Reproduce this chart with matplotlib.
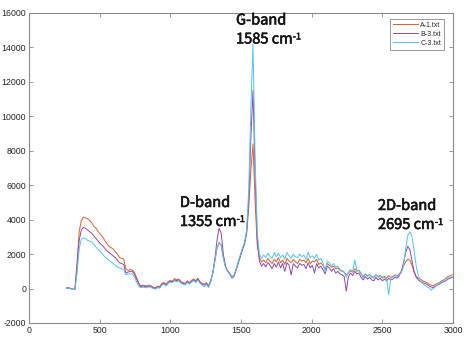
import numpy as np
import matplotlib
matplotlib.use("Agg")
import matplotlib.pyplot as plt
import matplotlib.patheffects as pe

# Raman shift grid (cm^-1) and intensities for the three samples
wavenumber = np.arange(265, 3000, 15)

a1 = [
    20, 50, 10, -30, -40, 1500, 3300, 3950, 4150, 4100,
    4050, 3950, 3800, 3600, 3500, 3300, 3150, 3000, 2800, 2620,
    2450, 2380, 2300, 2150, 2000, 1800, 1750, 1720, 1150, 1050,
    1100, 1080, 950, 650, 350, 150, 200, 170, 150, 200,
    150, 80, 40, 150, 100, 300, 350, 250, 400, 480,
    420, 580, 500, 560, 400, 350, 300, 450, 350, 480,
    550, 450, 600, 400, 300, 250, 350, 150, 450, 900,
    1600, 2300, 2650, 2550, 1800, 1300, 1050, 900, 700, 780,
    1100, 1500, 1900, 2300, 2600, 3200, 4700, 6900, 8400, 5000,
    2500, 1800, 1550, 1650, 1500, 1750, 1600, 1450, 1700, 1550,
    1800, 1500, 1650, 1400, 1750, 1600, 1500, 1700, 1550, 1450,
    1700, 1600, 1650, 1500, 1750, 1450, 1600, 1550, 1700, 1400,
    1500, 1350, 1100, 1450, 1350, 1250, 1300, 1150, 1200, 1050,
    1000, 950, 800, 900, 1050, 950, 1150, 1000, 1050, 850,
    700, 850, 750, 800, 700, 650, 800, 700, 750, 650,
    700, 600, 750, 650, 700, 800, 750, 850, 1000, 1300,
    1550, 1700, 1650, 1350, 950, 700, 600, 550, 450, 400,
    350, 250, 200, 150, 250, 300, 350, 450, 500, 600,
    700, 750, 800,
]

b3 = [
    30, 40, 0, -40, -30, 1300, 2800, 3400, 3550, 3500,
    3400, 3300, 3200, 3050, 2900, 2750, 2600, 2500, 2350, 2200,
    2100, 2000, 1900, 1800, 1650, 1500, 1450, 1400, 900, 950,
    1000, 1000, 850, 550, 300, 100, 150, 120, 100, 150,
    100, 30, 0, 100, 60, 250, 300, 200, 350, 420,
    380, 500, 450, 500, 350, 300, 250, 400, 300, 420,
    500, 400, 550, 350, 250, 200, 300, 100, 400, 900,
    1700, 2800, 3500, 3200, 2000, 1300, 1000, 850, 600, 700,
    1050, 1450, 1850, 2250, 2600, 3300, 5200, 8800, 11500, 6500,
    2900, 1600, 1300, 1450, 1250, 1500, 1350, 1150, 1450, 1250,
    1550, 1200, 1450, 1000, 1500, 1350, 800, 1450, 1300, 1200,
    1450, 1350, 1400, 1150, 1500, 1200, 1350, 900, 1450, 1200,
    1300, 1100, 850, 1300, 1200, 1000, 1150, 900, 1000, 850,
    800, 700, -150, 700, 900, 750, 1000, 850, 900, 650,
    500, 700, 550, 650, 500, 450, 650, 500, 600, 450,
    550, 450, 600, 500, 550, 650, 600, 750, 1000, 1500,
    2100, 2450, 2250, 1600, 1000, 650, 500, 400, 350, 300,
    250, 150, 100, 50, 150, 200, 250, 350, 400, 450,
    550, 600, 650,
]

c3 = [
    0, 30, -10, -50, -60, 900, 2300, 2850, 2950, 2900,
    2800, 2750, 2700, 2550, 2400, 2250, 2150, 2000, 1850, 1750,
    1650, 1550, 1450, 1350, 1250, 1200, 1150, 1100, 800, 850,
    850, 850, 700, 400, 150, 50, 80, 60, 50, 100,
    50, 0, -30, 50, 20, 200, 250, 150, 300, 380,
    350, 450, 400, 450, 300, 250, 200, 350, 250, 380,
    450, 350, 500, 300, 200, 100, 250, 50, 400, 850,
    1600, 2350, 2700, 2500, 1750, 1250, 1000, 850, 650, 750,
    1100, 1550, 1950, 2350, 2700, 3400, 5800, 10500, 14200, 7500,
    3300, 2000, 1750, 1950, 1800, 2050, 1850, 1750, 2100, 1850,
    2050, 1800, 1950, 1700, 2100, 1900, 1750, 2000, 1850, 1800,
    2000, 1850, 1950, 1700, 2100, 1800, 1900, 1750, 2000, 1650,
    1750, 1500, 1000, 1600, 1500, 1300, 1450, 1250, 1300, 1100,
    1050, 950, 650, 950, 1100, 1000, 1650, 1050, 1050, 900,
    600, 850, 700, 800, 650, 600, 800, 650, 700, 600,
    650, 550, -350, 600, 650, 750, 700, 800, 950, 1300,
    2300, 3100, 3300, 3000, 2200, 1300, 750, 450, 300, 200,
    100, 50, -100, 0, 100, 200, 300, 400, 450, 500,
    600, 650, 700,
]

series_labels = ["A-1.txt", "B-3.txt", "C-3.txt"]
series_colors = ["#DD6030", "#9048A8", "#55C3F0"]

x_ticks = [0, 500, 1000, 1500, 2000, 2500, 3000]
y_ticks = [-2000, 0, 2000, 4000, 6000, 8000, 10000, 12000, 14000, 16000]

# Peak annotations: (first line, position, x, y of first line)
bands = [
    ("G-band", "1585", 1465, 15566),
    ("D-band", "1355", 1068, 4970),
    ("2D-band", "2695", 2469, 4796),
]

W, H = 466, 341
fig = plt.figure(figsize=(W / 100, H / 100), dpi=100)
ax = fig.add_axes([29 / W, (H - 323) / H, 424 / W, 310 / H])

for y, lab, col in zip([a1, b3, c3], series_labels, series_colors):
    ax.plot(wavenumber, y, color=col, lw=0.7, label=lab)

ax.set_xlim(0, 3000)
ax.set_ylim(-2000, 16000)
ax.set_xticks(x_ticks)
ax.set_yticks(y_ticks)

tick_font = {"family": "Liberation Sans", "size": 6.3}
ax.set_xticklabels([str(v) for v in x_ticks], fontdict=tick_font, color="#262626")
ax.set_yticklabels([str(v) for v in y_ticks], fontdict=tick_font, color="#262626")
ax.tick_params(direction="in", length=3, width=0.6, color="#8a8a8a",
               top=True, right=True, pad=2)
for s in ax.spines.values():
    s.set_color("#8a8a8a")
    s.set_linewidth(0.8)

leg = ax.legend(loc="upper right", bbox_to_anchor=(0.979, 0.981),
                prop={"family": "Liberation Sans", "size": 5},
                handlelength=3.6, handletextpad=0.4, labelspacing=0.3,
                borderpad=0.4, borderaxespad=0.0, fancybox=False,
                framealpha=1.0, edgecolor="#8a8a8a")
leg.get_frame().set_linewidth(0.6)
for t in leg.get_texts():
    t.set_color("#262626")

ann_family = ["Noto Sans CJK SC", "DejaVu Sans"]
ann_color = "#151515"
# slightly thickened regular weight
ann_fx = [pe.withStroke(linewidth=0.45, foreground=ann_color)]
ann_kw = dict(family=ann_family, color=ann_color, path_effects=ann_fx,
              ha="left", va="center")
line_gap = 19  # pixels between the two lines of each label
fig.canvas.draw()
for name, pos, xa, ya in bands:
    ax.text(xa, ya, name, fontsize=10.5, **ann_kw)
    # second line, placed a fixed pixel distance below the first
    px, py = ax.transData.transform((xa, ya))
    t2 = fig.text(px / W, (py - line_gap) / H, pos + " cm", fontsize=10.5,
                  **ann_kw)
    fig.canvas.draw()
    bb = t2.get_window_extent()
    fig.text((bb.x1 + 0.5) / W, (py - line_gap + 2.5) / H, "-1",
             fontsize=6.5, **ann_kw)

fig.savefig("out.png", dpi=100)
